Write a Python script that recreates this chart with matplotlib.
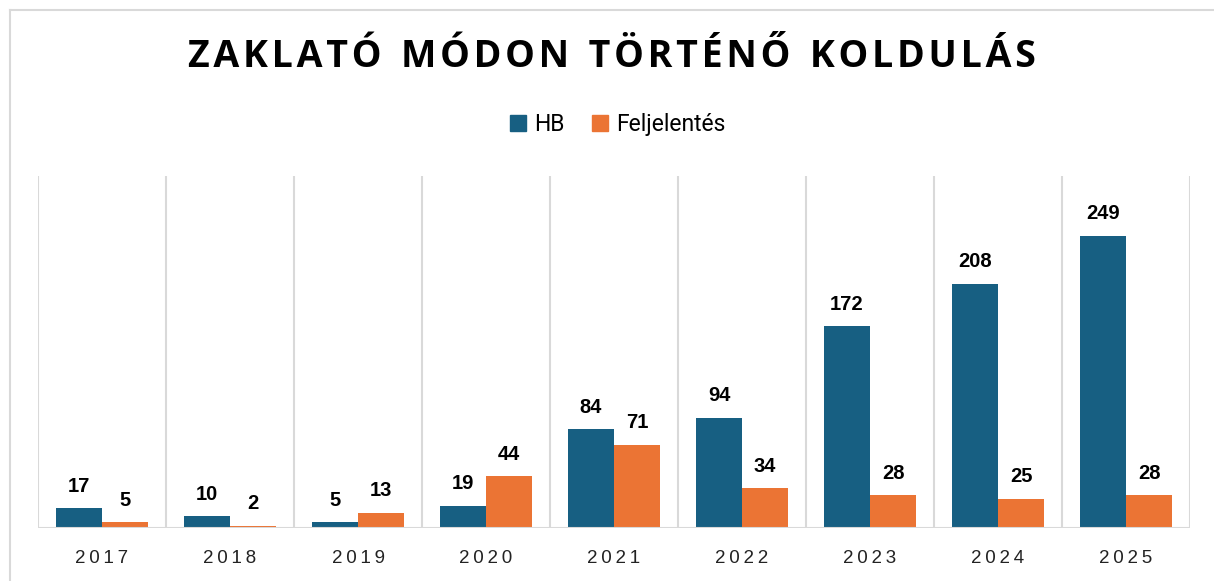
import matplotlib
matplotlib.use("Agg")
import matplotlib.pyplot as plt
import numpy as np
from matplotlib.lines import Line2D

years = ["2017", "2018", "2019", "2020", "2021", "2022", "2023", "2024", "2025"]
hb = [17, 10, 5, 19, 84, 94, 172, 208, 249]
feljelentes = [5, 2, 13, 44, 71, 34, 28, 25, 28]
series_names = ["HB", "Feljelentés"]
title = "ZAKLATÓ MÓDON TÖRTÉNŐ KOLDULÁS"

BLUE = "#175f82"
ORANGE = "#eb7434"
GRID = "#d9d9d9"

W, H, DPI = 1214, 581, 100
fig = plt.figure(figsize=(W / DPI, H / DPI), dpi=DPI)
fig.patch.set_facecolor("white")

# axes placement in pixels
x0, x1 = 38, 1190
y_top, y_base = 176, 528
ax = fig.add_axes([x0 / W, 1 - y_base / H, (x1 - x0) / W, (y_base - y_top) / H])

n = len(years)
x = np.arange(n)
bw = 0.36
b1 = ax.bar(x - bw / 2, hb, bw, color=BLUE, label=series_names[0], zorder=3)
b2 = ax.bar(x + bw / 2, feljelentes, bw, color=ORANGE, label=series_names[1], zorder=3)

ax.set_xlim(-0.5, n - 0.5)
ax.set_ylim(0, 300)

for rects, vals in ((b1, hb), (b2, feljelentes)):
    for r, v in zip(rects, vals):
        ax.annotate(str(v), (r.get_x() + r.get_width() / 2, v), xytext=(0, 9),
                    textcoords="offset points", ha="center", va="bottom",
                    fontsize=14.5, fontweight="bold", family=["Liberation Sans", "DejaVu Sans"],
                    color="black")

# vertical category separators
for b in np.arange(-0.5, n, 1.0):
    ax.axvline(b, color=GRID, lw=1.5, zorder=1)
ax.axhline(0, color=GRID, lw=1.5, zorder=4)

for s in ax.spines.values():
    s.set_visible(False)
ax.set_yticks([])
ax.set_xticks(x)
ax.set_xticklabels(["\u2009".join(y) for y in years], fontsize=13.5,
                   family=["Liberation Sans", "DejaVu Sans"], color="#222222")
ax.tick_params(axis="x", length=0, pad=16)

# title with letter spacing
fig.text(612 / W, 1 - 57 / H, "\u200a".join(title).replace("\u200a \u200a", "  "),
         ha="center", va="center", fontsize=27, fontweight="bold",
         family=["Open Sans", "DejaVu Sans"], color="black")

# legend
handles = [Line2D([], [], marker="s", ls="", color=BLUE, markersize=11),
           Line2D([], [], marker="s", ls="", color=ORANGE, markersize=11)]
fig.legend(handles, series_names, loc="center", bbox_to_anchor=(618 / W, 1 - 125 / H),
           ncol=2, frameon=False, handlelength=0.7, handletextpad=0.35,
           columnspacing=1.2, prop={"family": ["Roboto", "DejaVu Sans"], "size": 16.5})

# outer border (left & top visible)
fig.add_artist(Line2D([9.5 / W, 9.5 / W], [0, 1 - 10 / H], transform=fig.transFigure,
                      color=GRID, lw=1.5))
fig.add_artist(Line2D([9.5 / W, 1], [1 - 10 / H, 1 - 10 / H], transform=fig.transFigure,
                      color=GRID, lw=1.5))

fig.savefig("out.png", dpi=DPI)
